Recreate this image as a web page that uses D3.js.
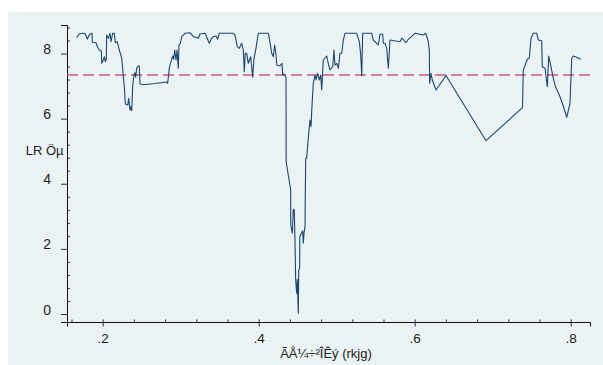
<!DOCTYPE html>
<html>
<head>
<meta charset="utf-8">
<script src="https://cdn.jsdelivr.net/npm/d3@7/dist/d3.min.js"></script>
<style>
  html, body { margin: 0; padding: 0; background: #fff; }
  svg { display: block; font-family: "Liberation Sans", Arial, sans-serif; }
</style>
</head>
<body>
<div id="chart"></div>
<script>
// threshold parameter (x) and LR statistic (y)
const rkjg = [
  0.1667, 0.1696, 0.1751, 0.1777, 0.1803, 0.1821, 0.1846, 0.1863, 0.1867, 0.1914,
  0.1936, 0.1956, 0.1982, 0.1987, 0.2008, 0.2021, 0.2033, 0.2046, 0.2051, 0.2072,
  0.2094, 0.2106, 0.2128, 0.2149, 0.2162, 0.2187, 0.2213, 0.2244, 0.2264, 0.2277,
  0.2290, 0.2321, 0.2333, 0.2350, 0.2359, 0.2372, 0.2385, 0.2401, 0.2414, 0.2423,
  0.2436, 0.2453, 0.2469, 0.2478, 0.2521, 0.2671, 0.2821, 0.2833, 0.2854, 0.2876,
  0.2897, 0.2910, 0.2923, 0.2940, 0.2953, 0.2969, 0.2978, 0.2995, 0.3013, 0.3055,
  0.3119, 0.3162, 0.3196, 0.3226, 0.3247, 0.3312, 0.3367, 0.3397, 0.3418, 0.3453,
  0.3474, 0.3495, 0.3674, 0.3696, 0.3726, 0.3751, 0.3782, 0.3803, 0.3815, 0.3828,
  0.3846, 0.3867, 0.3897, 0.3923, 0.3940, 0.3965, 0.3995, 0.4123, 0.4136, 0.4167,
  0.4187, 0.4205, 0.4222, 0.4231, 0.4273, 0.4299, 0.4308, 0.4324, 0.4350, 0.4352,
  0.4379, 0.4410, 0.4411, 0.4431, 0.4444, 0.4456, 0.4465, 0.4474, 0.4487, 0.4495,
  0.4508, 0.4513, 0.4525, 0.4527, 0.4551, 0.4564, 0.4572, 0.4581, 0.4594, 0.4597,
  0.4603, 0.4615, 0.4623, 0.4645, 0.4658, 0.4671, 0.4679, 0.4700, 0.4722, 0.4735,
  0.4756, 0.4777, 0.4795, 0.4808, 0.4828, 0.4872, 0.4892, 0.4914, 0.4949, 0.4965,
  0.4978, 0.5000, 0.5021, 0.5042, 0.5064, 0.5085, 0.5106, 0.5256, 0.5290, 0.5308,
  0.5321, 0.5333, 0.5449, 0.5469, 0.5513, 0.5533, 0.5555, 0.5590, 0.5597, 0.5619,
  0.5641, 0.5662, 0.5683, 0.5812, 0.5837, 0.5888, 0.5918, 0.6004, 0.6110, 0.6141,
  0.6154, 0.6174, 0.6187, 0.6192, 0.6209, 0.6226, 0.6273, 0.6401, 0.6914, 0.7382,
  0.7392, 0.7444, 0.7469, 0.7491, 0.7521, 0.7564, 0.7585, 0.7628, 0.7636, 0.7671,
  0.7700, 0.7718, 0.7747, 0.7777, 0.7808, 0.7863, 0.7905, 0.7949, 0.7991, 0.8013,
  0.8033, 0.8077, 0.8128
];
const lr = [
  8.486, 8.600, 8.621, 8.600, 8.446, 8.547, 8.609, 8.621, 8.345, 8.332,
  8.191, 8.108, 8.077, 7.700, 7.801, 7.902, 7.749, 7.822, 8.569, 8.467,
  8.621, 8.363, 8.621, 8.621, 8.332, 8.363, 8.108, 7.853, 7.310, 6.981,
  6.450, 6.419, 6.625, 6.265, 6.367, 6.244, 7.033, 7.340, 7.411, 7.270,
  7.546, 7.617, 7.617, 7.064, 7.042, 7.079, 7.125, 7.085, 7.565, 7.749,
  7.924, 7.822, 8.108, 7.801, 8.108, 7.546, 8.262, 8.314, 8.517, 8.621,
  8.639, 8.517, 8.498, 8.467, 8.600, 8.621, 8.314, 8.467, 8.517, 8.538,
  8.437, 8.621, 8.621, 8.569, 8.210, 8.160, 8.314, 8.108, 7.442, 8.007,
  8.007, 7.700, 7.902, 7.270, 7.853, 8.160, 8.621, 8.621, 8.467, 8.007,
  7.902, 8.262, 7.955, 7.647, 7.617, 7.700, 7.340, 7.371, 7.270, 4.678,
  4.269, 3.808, 2.733, 2.479, 3.216, 3.194, 2.273, 1.044, 0.636, 1.066,
  0.021, 1.351, 1.404, 2.374, 2.497, 2.549, 2.171, 2.479, 2.681, 3.603,
  4.782, 4.782, 5.037, 5.651, 5.958, 5.753, 6.213, 7.085, 7.340, 7.187,
  7.393, 7.187, 7.340, 6.880, 7.801, 7.924, 7.700, 7.494, 7.595, 8.108,
  7.647, 7.700, 7.546, 8.007, 8.007, 8.415, 8.621, 8.621, 8.363, 7.955,
  7.319, 8.621, 8.621, 8.415, 8.314, 8.262, 8.590, 8.590, 8.314, 8.314,
  8.160, 7.546, 8.415, 8.363, 8.477, 8.332, 8.437, 8.621, 8.569, 8.621,
  8.538, 8.363, 8.108, 7.085, 7.393, 7.187, 6.880, 7.325, 5.323, 6.336,
  7.494, 7.822, 7.853, 8.467, 8.621, 8.621, 8.415, 8.394, 7.595, 7.546,
  6.981, 7.924, 7.595, 7.239, 6.962, 6.674, 6.388, 6.041, 6.471, 7.853,
  7.924, 7.884, 7.822
];
const critical = 7.34;   // dashed reference line

const yTicks = [0, 2, 4, 6, 8];
const xTicks = [0.2, 0.4, 0.6, 0.8];
const xTickLabels = [".2", ".4", ".6", ".8"];
const yTitle = "LR Öµ";
const xTitle = "ÃÅ¼÷²ÎÊý (rkjg)";

const W = 603, H = 365;
const svg = d3.select("#chart").append("svg")
  .attr("width", W)
  .attr("height", H);

svg.append("rect")
  .attr("x", 8).attr("y", 12)
  .attr("width", W - 8).attr("height", H - 12)
  .attr("fill", "#eaf2f3");

const x = d3.scaleLinear().domain([0.15423, 0.82474]).range([67, 590]);
const y = d3.scaleLinear().domain([-0.2457, 8.876]).range([322, 25]);

// minor ticks (pointing inside)
const yMinor = d3.range(0, 8.81, 0.4).filter(v => yTicks.indexOf(Math.round(v * 10) / 10) < 0);
svg.append("g")
  .attr("transform", "translate(67,0)")
  .call(d3.axisRight(y).tickValues(yMinor).tickSize(3).tickFormat(""))
  .call(g => g.select(".domain").remove())
  .selectAll("line").attr("stroke", "#333");

const xMinor = d3.range(0.16, 0.825, 0.04).filter(v => Math.abs(v * 5 - Math.round(v * 5)) > 0.01);
svg.append("g")
  .attr("transform", "translate(0,322)")
  .call(d3.axisTop(x).tickValues(xMinor).tickSize(2.5).tickFormat(""))
  .call(g => g.select(".domain").remove())
  .selectAll("line").attr("stroke", "#333");

// y axis
const gy = svg.append("g")
  .attr("transform", "translate(67,0)")
  .call(d3.axisLeft(y).tickValues(yTicks).tickSizeOuter(0).tickSize(6));
gy.select(".domain").attr("stroke", "#111");
gy.selectAll(".tick line").attr("x1", 1).attr("stroke", "#333");
gy.selectAll(".tick text")
  .attr("x", -16).attr("dy", 0)
  .attr("font-size", 14).attr("fill", "#222")
  .style("font-family", "Liberation Sans, Arial, sans-serif");

// x axis
const gx = svg.append("g")
  .attr("transform", "translate(0,322)")
  .call(d3.axisBottom(x).tickValues(xTicks).tickSizeOuter(0).tickSize(4.5)
    .tickFormat((d, i) => xTickLabels[i]));
gx.select(".domain").attr("stroke", "#111");
gx.selectAll(".tick line").attr("y1", -2.5).attr("stroke", "#333");
gx.selectAll(".tick text")
  .attr("y", 21).attr("dy", 0)
  .attr("font-size", 13.5).attr("fill", "#222")
  .style("font-family", "Liberation Sans, Arial, sans-serif");

// titles
svg.append("text")
  .attr("x", 63.5).attr("y", 155)
  .attr("text-anchor", "end")
  .attr("font-size", 13).attr("fill", "#222")
  .text(yTitle);
svg.append("text")
  .attr("x", 326).attr("y", 358)
  .attr("text-anchor", "middle")
  .attr("font-size", 13).attr("fill", "#222")
  .text(xTitle);

// reference line
svg.append("line")
  .attr("x1", x.range()[0]).attr("x2", x.range()[1])
  .attr("y1", y(critical)).attr("y2", y(critical))
  .attr("stroke", "#c95a78")
  .attr("stroke-width", 1.6)
  .attr("stroke-dasharray", "11,5");

// LR curve
const pts = rkjg.map((v, i) => [v, lr[i]]);
svg.append("path")
  .datum(pts)
  .attr("fill", "none")
  .attr("stroke", "#1a476f")
  .attr("stroke-width", 1.1)
  .attr("stroke-linejoin", "round")
  .attr("d", d3.line().x(d => x(d[0])).y(d => y(d[1])));
</script>
</body>
</html>
